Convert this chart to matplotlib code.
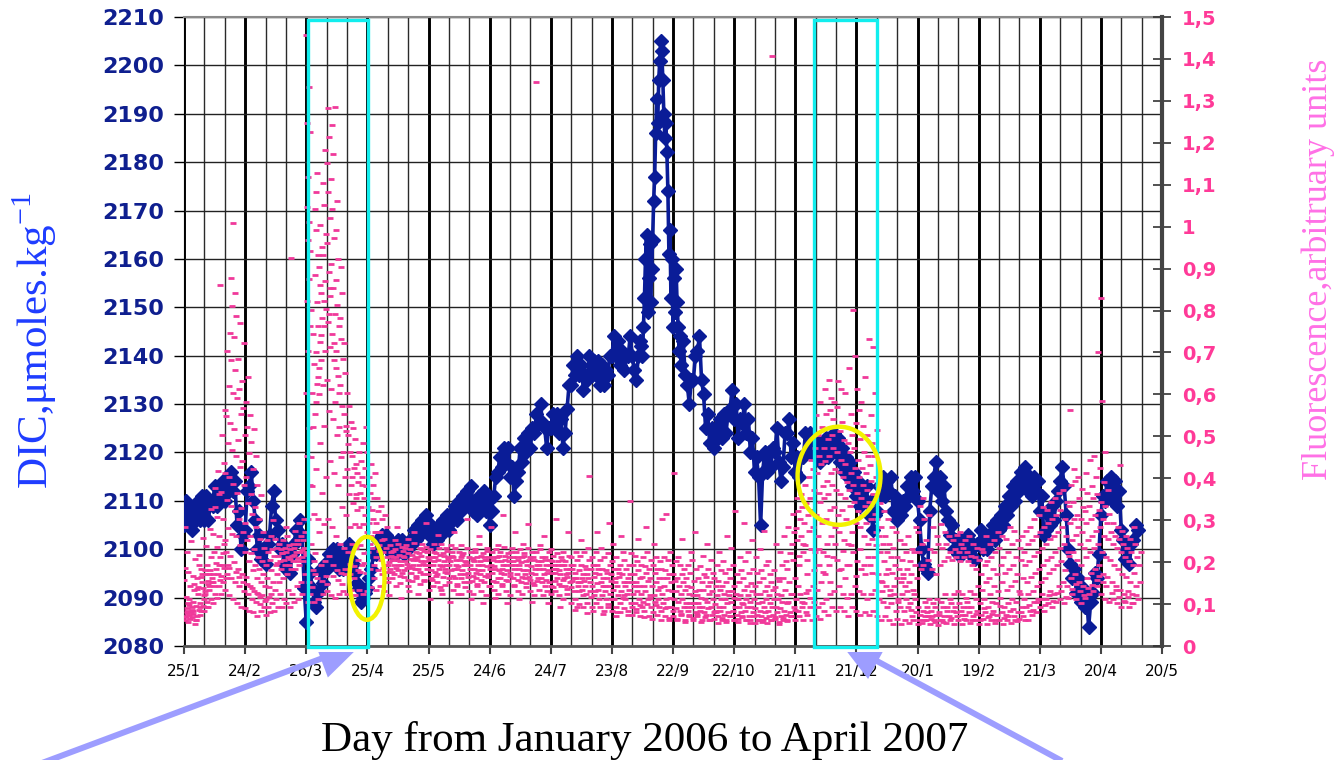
import numpy as np
import matplotlib.pyplot as plt
from matplotlib.patches import Rectangle, Ellipse, FancyArrow

# x axis: days counted from 25/1/2006
tick_days = list(range(0, 481, 30))
tick_names = ['25/1', '24/2', '26/3', '25/4', '25/5', '24/6', '24/7', '23/8', '22/9',
              '22/10', '21/11', '21/12', '20/1', '19/2', '21/3', '20/4', '20/5']
fl_ticks = [i / 10 for i in range(16)]
fl_names = ['0', '0,1', '0,2', '0,3', '0,4', '0,5', '0,6', '0,7', '0,8', '0,9',
            '1', '1,1', '1,2', '1,3', '1,4', '1,5']

# DIC, one value per day from day 0 to day 224
dic_a = [2105, 2110, 2106, 2109, 2104, 2108, 2106, 2110, 2106, 2111,
         2106, 2111, 2106, 2110, 2109, 2113, 2109, 2113, 2110, 2114,
         2110, 2114, 2112, 2116, 2112, 2114, 2105, 2108, 2100, 2103,
         2104, 2112, 2113, 2116, 2110, 2106, 2100, 2103, 2098, 2100,
         2097, 2101, 2103, 2109, 2112, 2106, 2104, 2100, 2101, 2097,
         2096, 2099, 2095, 2099, 2101, 2104, 2102, 2106, 2103, 2092,
         2085, 2098, 2095, 2092, 2089, 2088, 2091, 2096, 2093, 2097,
         2096, 2099, 2097, 2100, 2097, 2100, 2096, 2098, 2096, 2099,
         2098, 2101, 2098, 2097, 2095, 2093, 2092, 2089, 2090, 2091,
         2092, 2094, 2096, 2099, 2099, 2102, 2100, 2103, 2101, 2103,
         2100, 2102, 2099, 2101, 2099, 2102, 2100, 2102, 2099, 2101,
         2100, 2102, 2101, 2104, 2102, 2105, 2103, 2106, 2104, 2107,
         2103, 2105, 2101, 2104, 2102, 2105, 2103, 2106, 2104, 2107,
         2104, 2107, 2106, 2109, 2106, 2110, 2108, 2111, 2109, 2112,
         2110, 2113, 2108, 2110, 2107, 2111, 2109, 2112, 2108, 2110,
         2105, 2108, 2111, 2115, 2116, 2119, 2117, 2121, 2118, 2121,
         2115, 2117, 2111, 2114, 2116, 2121, 2118, 2123, 2120, 2124,
         2121, 2125, 2124, 2128, 2126, 2130, 2126, 2125, 2121, 2125,
         2125, 2128, 2125, 2128, 2124, 2127, 2121, 2124, 2129, 2134,
         2134, 2138, 2136, 2140, 2136, 2138, 2133, 2136, 2135, 2140,
         2136, 2139, 2136, 2139, 2134, 2138, 2134, 2137, 2136, 2140,
         2140, 2144, 2140, 2143, 2138, 2141, 2137, 2140, 2140, 2144,
         2140, 2137, 2135, 2140, 2143]
# DIC during the September peak, one value per half day from day 224.5
dic_peak = [2142, 2140, 2146, 2152, 2160, 2165, 2149, 2156, 2163, 2151,
            2158, 2164, 2172, 2177, 2186, 2193, 2188, 2197, 2201, 2205,
            2203, 2197, 2190, 2185, 2188, 2182, 2174, 2161, 2166, 2152,
            2160, 2146, 2156, 2149, 2158, 2151, 2146, 2141, 2144]
# DIC, one value per day from day 244 to day 468
dic_b = [2138, 2143, 2136, 2134, 2130, 2135,
         2135, 2140, 2141, 2144, 2135, 2132, 2125, 2128, 2122, 2125,
         2121, 2125, 2123, 2127, 2123, 2128, 2124, 2128, 2129, 2133,
         2127, 2130, 2123, 2127, 2126, 2130, 2124, 2127, 2120, 2123,
         2116, 2119, 2115, 2105, 2116, 2120, 2116, 2120, 2117, 2121,
         2120, 2125, 2118, 2114, 2117, 2124, 2124, 2127, 2119, 2122,
         2116, 2119, 2115, 2119, 2119, 2124, 2120, 2124, 2120, 2123,
         2119, 2122, 2118, 2122, 2120, 2123, 2119, 2122, 2121, 2124,
         2120, 2123, 2118, 2121, 2116, 2119, 2115, 2118, 2113, 2116,
         2111, 2114, 2109, 2113, 2110, 2113, 2107, 2110, 2104, 2107,
         2108, 2113, 2111, 2115, 2111, 2114, 2112, 2115, 2108, 2111,
         2106, 2109, 2107, 2110, 2109, 2113, 2111, 2115, 2112, 2115,
         2110, 2106, 2100, 2097, 2096, 2095, 2108, 2113, 2115, 2118,
         2112, 2115, 2110, 2113, 2108, 2106, 2103, 2105, 2100, 2102,
         2099, 2102, 2099, 2102, 2100, 2103, 2099, 2101, 2098, 2101,
         2101, 2104, 2100, 2103, 2100, 2103, 2102, 2105, 2102, 2106,
         2104, 2107, 2105, 2109, 2107, 2111, 2109, 2113, 2110, 2114,
         2112, 2116, 2113, 2117, 2112, 2115, 2111, 2115, 2112, 2114,
         2108, 2111, 2103, 2104, 2107, 2105, 2109, 2106, 2110, 2112,
         2114, 2117, 2113, 2107, 2100, 2097, 2094, 2096, 2091, 2094,
         2089, 2092, 2088, 2090, 2084, 2089, 2091, 2095, 2094, 2099,
         2107, 2111, 2110, 2114, 2111, 2115, 2110, 2114, 2109, 2112,
         2104, 2102, 2098, 2100, 2097, 2101, 2102, 2105, 2104]

# fluorescence, in thousandths, one list per 2-day bin
# bins from day 0 to day 58
fl_a = [[72, 91, 63, 84, 118, 157, 224, 283, 103, 68, 187, 79],
        [58, 81, 74, 93, 142, 176, 251, 112, 86, 64, 97],
        [69, 53, 84, 95, 133, 168, 207, 104, 61, 148, 77],
        [62, 87, 71, 102, 124, 163, 193, 141, 92, 218, 136],
        [74, 96, 83, 121, 152, 184, 139, 172, 113, 257, 165],
        [83, 104, 132, 154, 171, 123, 194, 238, 147, 92, 181],
        [94, 113, 142, 163, 182, 134, 213, 279, 152, 326, 171],
        [103, 124, 153, 184, 223, 268, 331, 144, 197, 377, 172],
        [114, 143, 171, 212, 263, 308, 362, 418, 862, 193, 236, 158],
        [123, 152, 194, 243, 304, 368, 437, 503, 562, 221, 168, 187],
        [134, 172, 223, 281, 347, 412, 483, 548, 621, 703, 252, 193, 161],
        [121, 163, 214, 268, 334, 403, 467, 532, 604, 683, 747, 812, 878, 186],
        [112, 153, 201, 262, 323, 387, 452, 518, 592, 657, 738, 788, 843, 1008, 176],
        [103, 142, 183, 241, 302, 364, 428, 492, 553, 612, 684, 771, 164],
        [94, 131, 172, 224, 273, 328, 384, 441, 503, 567, 633, 723, 152],
        [91, 123, 164, 203, 252, 293, 342, 404, 461, 522, 583, 642, 147],
        [83, 112, 143, 182, 221, 262, 314, 363, 421, 487, 552, 138],
        [81, 104, 132, 163, 194, 231, 283, 331, 384, 452, 518, 127],
        [72, 101, 124, 152, 183, 212, 254, 302, 361, 118],
        [83, 92, 121, 143, 171, 203, 234, 273, 108],
        [74, 93, 112, 141, 162, 194, 223, 252, 116],
        [82, 103, 124, 153, 182, 204, 232, 263, 301],
        [84, 113, 134, 172, 193, 214, 233, 254, 198],
        [93, 124, 152, 183, 203, 214, 232, 243, 221],
        [92, 113, 162, 193, 204, 221, 233, 252, 283],
        [103, 134, 172, 194, 212, 223, 241, 263, 207],
        [94, 123, 183, 203, 214, 232, 244, 926, 218],
        [104, 143, 184, 202, 223, 234, 252, 274, 211],
        [113, 152, 193, 213, 224, 243, 262, 293, 228],
        [124, 172, 203, 222, 234, 253, 273, 302, 216]]
# bins from day 60 to day 98 (spring bloom)
fl_b = [[1457, 1332, 1248, 1226, 1118, 1047, 1012, 968, 941, 876, 823, 762, 704, 603, 521,
         452, 383, 302, 224, 153, 104],
        [123, 182, 243, 314, 382, 451, 523, 604, 672, 743, 801, 203, 141],
        [104, 163, 222, 303, 421, 553, 624, 702, 763, 821, 884, 932, 993, 1042, 1128, 1083,
         641, 582, 172],
        [113, 192, 271, 364, 483, 602, 681, 724, 783, 842, 903, 952, 1004, 663, 742, 861, 154],
        [124, 203, 292, 403, 524, 623, 704, 762, 803, 871, 932, 983, 1052, 1103, 1184, 822, 168],
        [132, 214, 303, 442, 561, 634, 712, 773, 834, 893, 962, 1021, 1083, 1152, 1213, 1282,
         853, 791, 147],
        [121, 193, 284, 413, 542, 613, 682, 743, 792, 853, 912, 973, 1042, 1113, 1174, 1243,
         723, 166],
        [114, 182, 263, 384, 503, 582, 643, 704, 762, 813, 872, 924, 993, 1286, 1062, 662, 158],
        [123, 174, 243, 332, 451, 523, 572, 623, 684, 732, 783, 842, 903, 604, 148],
        [132, 183, 234, 313, 402, 463, 512, 553, 604, 652, 723, 524, 171],
        [124, 172, 223, 284, 363, 421, 462, 503, 534, 572, 482, 196],
        [133, 191, 243, 292, 342, 383, 424, 452, 493, 521, 403, 163],
        [121, 182, 234, 283, 324, 363, 392, 434, 462, 413, 352, 204],
        [134, 193, 242, 291, 332, 364, 403, 442, 483, 384, 176],
        [123, 174, 221, 273, 312, 353, 382, 424, 463, 522, 198],
        [132, 183, 224, 262, 293, 331, 364, 402, 434, 243],
        [141, 192, 233, 272, 303, 324, 353, 384, 413, 162],
        [134, 182, 213, 242, 273, 294, 323, 352, 226],
        [143, 172, 204, 223, 252, 273, 302, 334, 187],
        [132, 163, 194, 212, 233, 254, 283, 312, 176]]
# bins from day 100 to day 298
fl_c = [[153, 184, 201, 223, 242, 192, 214, 121, 176], [162, 193, 212, 231, 172, 204, 253, 226, 187],
        [143, 181, 206, 218, 244, 213, 194, 283, 167], [151, 173, 192, 214, 236, 203, 227, 114, 182],
        [164, 186, 203, 221, 241, 212, 196, 233, 158], [142, 174, 191, 216, 232, 254, 207, 132, 185],
        [156, 183, 204, 224, 246, 193, 211, 272, 168], [163, 192, 213, 234, 184, 206, 221, 123, 177],
        [147, 172, 203, 226, 243, 214, 196, 232, 158], [154, 184, 193, 212, 237, 203, 224, 293, 171],
        [134, 163, 192, 213, 231, 204, 182, 113, 157], [143, 176, 202, 221, 244, 194, 212, 224, 168],
        [152, 183, 204, 216, 233, 172, 193, 264, 141], [133, 164, 191, 214, 222, 243, 203, 124, 176],
        [146, 173, 194, 207, 226, 184, 213, 234, 162],
        [152, 181, 203, 224, 241, 192, 214, 104, 167], [134, 163, 184, 206, 233, 212, 193, 272, 148],
        [143, 172, 191, 213, 224, 183, 204, 123, 161], [124, 153, 182, 203, 221, 242, 194, 216, 171],
        [141, 164, 192, 212, 234, 201, 173, 303, 152], [132, 154, 183, 204, 223, 192, 211, 112, 166],
        [123, 162, 184, 213, 231, 203, 174, 224, 147], [144, 171, 193, 214, 243, 182, 202, 262, 158],
        [131, 153, 181, 204, 222, 193, 212, 103, 167], [122, 164, 191, 213, 234, 204, 172, 226, 143],
        [142, 173, 194, 206, 224, 183, 213, 284, 156], [133, 152, 184, 212, 232, 191, 203, 114, 162],
        [124, 161, 182, 203, 223, 241, 174, 214, 148], [143, 172, 193, 214, 236, 184, 204, 312, 157],
        [132, 154, 181, 202, 221, 193, 213, 102, 168], [121, 163, 194, 212, 233, 174, 203, 223, 146],
        [142, 171, 192, 204, 224, 183, 212, 273, 158], [131, 153, 184, 213, 232, 192, 201, 113, 164],
        [123, 162, 181, 203, 221, 244, 172, 214, 151], [141, 164, 193, 212, 234, 182, 204, 292, 157],
        [132, 151, 173, 204, 223, 191, 212, 104, 146], [122, 154, 183, 202, 224, 172, 193, 1346, 161],
        [133, 162, 184, 213, 231, 194, 203, 242, 152], [121, 143, 172, 193, 212, 184, 204, 263, 157],
        [132, 153, 181, 204, 223, 173, 194, 102, 144], [124, 141, 173, 192, 214, 232, 183, 203, 156],
        [131, 162, 184, 203, 221, 174, 192, 303, 147], [122, 143, 171, 194, 213, 182, 204, 93, 158],
        [113, 142, 163, 184, 203, 224, 172, 194, 136], [124, 152, 173, 192, 214, 164, 183, 272, 141],
        [103, 132, 154, 173, 192, 213, 162, 184, 86], [112, 143, 161, 182, 204, 223, 153, 92, 131],
        [101, 134, 152, 171, 193, 214, 163, 252, 122], [92, 123, 154, 172, 191, 224, 184, 143, 78],
        [103, 131, 162, 183, 204, 233, 152, 405, 117], [94, 122, 143, 174, 193, 212, 164, 83, 131],
        [102, 134, 151, 172, 194, 223, 183, 272, 113], [93, 121, 153, 162, 184, 204, 142, 234, 76],
        [84, 113, 142, 163, 182, 213, 174, 132, 101], [92, 124, 143, 171, 192, 221, 154, 293, 112],
        [83, 112, 134, 162, 183, 203, 152, 243, 71], [94, 121, 142, 164, 184, 212, 173, 82, 103],
        [82, 114, 132, 153, 172, 194, 223, 262, 121], [91, 123, 144, 161, 183, 204, 152, 113, 74],
        [84, 103, 134, 152, 171, 193, 222, 345, 92], [73, 102, 124, 153, 172, 192, 214, 143, 88],
        [82, 113, 131, 162, 181, 203, 142, 254, 97], [71, 104, 123, 143, 164, 192, 212, 93, 68],
        [83, 101, 132, 154, 173, 191, 223, 283, 112], [72, 93, 121, 142, 163, 184, 204, 114, 64],
        [81, 104, 122, 153, 174, 193, 213, 243, 98], [73, 92, 113, 141, 162, 183, 202, 134, 62],
        [84, 102, 124, 143, 161, 184, 212, 303, 91], [71, 94, 112, 134, 163, 182, 204, 315, 66],
        [63, 92, 114, 132, 153, 171, 193, 224, 84],
        [72, 91, 113, 132, 154, 172, 203, 412, 64], [61, 83, 104, 123, 142, 163, 192, 213, 76],
        [73, 94, 112, 134, 152, 171, 183, 254, 58], [62, 84, 102, 124, 143, 162, 194, 93, 71],
        [74, 92, 103, 122, 141, 173, 204, 223, 66], [63, 81, 102, 121, 132, 154, 183, 272, 77],
        [72, 84, 103, 114, 133, 162, 191, 94, 57], [61, 82, 93, 112, 134, 153, 172, 214, 68],
        [73, 91, 104, 123, 142, 164, 183, 243, 62], [62, 73, 92, 113, 131, 152, 174, 204, 81],
        [64, 82, 101, 122, 143, 161, 192, 83, 56], [71, 83, 94, 112, 133, 154, 182, 224, 67],
        [62, 74, 93, 113, 124, 142, 173, 203, 58], [63, 81, 102, 121, 132, 153, 184, 262, 72],
        [72, 83, 104, 114, 132, 163, 193, 234, 61], [61, 73, 92, 112, 123, 144, 172, 323, 57],
        [64, 82, 94, 103, 122, 152, 181, 213, 69], [71, 84, 101, 113, 134, 162, 203, 294, 63],
        [62, 72, 93, 104, 121, 143, 174, 224, 56], [63, 81, 92, 112, 132, 151, 184, 253, 71],
        [54, 73, 91, 103, 124, 142, 173, 212, 62], [61, 72, 83, 104, 123, 152, 181, 232, 58],
        [63, 82, 94, 113, 132, 163, 194, 274, 67], [56, 71, 84, 102, 121, 143, 172, 203, 61],
        [62, 74, 93, 112, 134, 153, 182, 1408, 69], [64, 81, 92, 113, 124, 141, 163, 243, 57],
        [53, 72, 91, 104, 122, 154, 193, 224, 66], [61, 73, 84, 102, 134, 162, 203, 262, 59],
        [63, 82, 104, 123, 152, 184, 221, 283, 72], [72, 94, 123, 162, 204, 243, 272, 314, 86]]
# bins from day 300 to day 468
fl_d = [[63, 84, 112, 214, 253, 282, 323, 354, 193, 142],
        [72, 93, 124, 223, 262, 304, 332, 362, 243, 104],
        [61, 82, 103, 204, 241, 293, 342, 383, 172, 126],
        [74, 92, 133, 232, 274, 313, 354, 402, 443, 114],
        [63, 104, 143, 224, 283, 324, 372, 423, 472, 182],
        [72, 93, 134, 192, 263, 312, 364, 413, 452, 503, 552, 231],
        [64, 103, 152, 224, 293, 343, 382, 434, 473, 523, 583, 176],
        [83, 112, 172, 243, 304, 352, 393, 442, 493, 553, 612, 214],
        [74, 124, 193, 262, 324, 363, 412, 453, 503, 562, 634, 591, 153],
        [93, 132, 213, 284, 332, 384, 423, 472, 524, 583, 542, 243],
        [84, 143, 204, 273, 313, 372, 414, 463, 512, 632, 571, 182],
        [92, 123, 184, 252, 324, 362, 403, 443, 492, 534, 612, 226],
        [83, 114, 163, 243, 302, 353, 392, 434, 483, 523, 603, 192],
        [72, 124, 192, 273, 334, 372, 413, 462, 503, 553, 663, 241],
        [94, 143, 224, 293, 343, 383, 424, 472, 532, 692, 801, 168],
        [83, 132, 203, 284, 323, 364, 403, 443, 494, 562, 613, 232],
        [74, 123, 184, 263, 312, 352, 383, 424, 463, 524, 582, 194],
        [82, 113, 172, 243, 293, 334, 372, 413, 452, 503, 642, 213],
        [73, 124, 193, 254, 303, 343, 394, 432, 483, 552, 733, 174],
        [84, 134, 212, 273, 314, 362, 403, 452, 514, 603, 712, 242],
        [72, 113, 172, 224, 263, 304, 342, 383, 154], [63, 104, 152, 203, 243, 284, 323, 132],
        [71, 93, 143, 184, 224, 263, 302, 172], [62, 102, 134, 173, 212, 243, 284, 121],
        [53, 84, 123, 162, 193, 234, 273, 143], [64, 92, 113, 152, 184, 213, 252, 104],
        [52, 83, 124, 143, 172, 204, 243, 163], [61, 94, 112, 153, 183, 224, 262, 132],
        [54, 72, 103, 134, 172, 203, 232, 86], [63, 82, 124, 162, 194, 223, 283, 112],
        [52, 73, 94, 184, 223, 272, 334, 63], [54, 62, 83, 104, 193, 243, 302, 352, 71],
        [61, 72, 93, 112, 204, 252, 313, 82], [53, 71, 84, 103, 183, 232, 284, 64],
        [62, 74, 92, 113, 172, 223, 263, 57], [51, 63, 82, 104, 193, 243, 292, 74],
        [63, 72, 93, 124, 203, 234, 272, 58], [54, 71, 83, 112, 213, 243, 262, 92],
        [62, 83, 102, 123, 204, 224, 253, 67], [53, 72, 94, 132, 213, 232, 264, 81],
        [61, 84, 103, 124, 202, 223, 243, 272, 73], [52, 73, 92, 114, 212, 234, 253, 64],
        [63, 82, 104, 132, 203, 224, 262, 93], [54, 71, 93, 123, 193, 214, 243, 62],
        [62, 83, 112, 143, 184, 213, 234, 76], [53, 74, 102, 134, 172, 204, 232, 61],
        [64, 82, 113, 152, 193, 224, 263, 91], [52, 71, 93, 124, 163, 203, 243, 68],
        [63, 84, 104, 143, 184, 213, 252, 77], [54, 73, 102, 132, 172, 224, 272, 63],
        [61, 82, 114, 153, 192, 234, 263, 96], [53, 74, 93, 134, 173, 213, 254, 66],
        [62, 83, 102, 142, 183, 224, 283, 72], [54, 72, 113, 154, 193, 243, 274, 88],
        [63, 81, 104, 132, 172, 213, 252, 59], [64, 93, 124, 163, 204, 234, 263, 82],
        [72, 94, 113, 152, 193, 224, 274, 63], [63, 84, 123, 164, 203, 243, 284, 97],
        [73, 104, 132, 173, 214, 253, 302, 86], [82, 113, 143, 184, 223, 262, 313, 104],
        [93, 124, 152, 193, 234, 272, 332, 112], [84, 112, 163, 204, 243, 283, 324, 98],
        [103, 132, 174, 213, 254, 293, 343, 121], [92, 123, 184, 224, 263, 304, 352, 107],
        [104, 143, 193, 234, 272, 313, 364, 126], [113, 152, 203, 243, 284, 324, 373, 132],
        [102, 143, 182, 224, 263, 302, 343, 118], [114, 163, 214, 253, 293, 334, 383, 562, 136],
        [123, 172, 223, 264, 302, 343, 394, 423, 147], [112, 153, 204, 243, 284, 313, 354, 402, 131],
        [103, 143, 192, 234, 273, 304, 332, 374, 122], [114, 162, 213, 253, 294, 323, 364, 412, 138],
        [123, 174, 224, 263, 304, 333, 382, 443, 146], [132, 183, 234, 274, 313, 354, 403, 452, 158],
        [143, 194, 243, 283, 324, 363, 424, 702, 831, 167],
        [124, 172, 223, 263, 304, 343, 392, 584, 463, 152],
        [113, 164, 213, 254, 293, 334, 372, 142], [104, 153, 204, 243, 273, 314, 126],
        [112, 143, 192, 234, 263, 293, 133], [102, 134, 183, 224, 254, 283, 432, 118],
        [93, 124, 172, 213, 243, 274, 107], [104, 132, 164, 203, 234, 263, 116],
        [92, 123, 153, 194, 224, 254, 103], [103, 143, 174, 213, 243, 283, 121],
        [112, 153, 193, 224]]


def spread(bins, start):
    # place the values of each 2-day bin across the bin
    xs, ys = [], []
    for i, vals in enumerate(bins):
        for j, v in enumerate(vals):
            xs.append(start + 2 * i + 2 * ((j * 0.618) % 1))
            ys.append(v / 1000)
    return xs, ys


dic_x = np.concatenate([np.arange(len(dic_a)),
                        224.5 + 0.5 * np.arange(len(dic_peak)),
                        244 + np.arange(len(dic_b))])
dic_y = np.array(dic_a + dic_peak + dic_b)

fl_x, fl_y = [], []
for bins, start in [(fl_a, 0), (fl_b, 60), (fl_c, 100), (fl_d, 300)]:
    xs, ys = spread(bins, start)
    fl_x += xs
    fl_y += ys

navy = '#0a1c97'
pink = '#f0399a'

fig = plt.figure(figsize=(13.4, 7.6), dpi=100)
ax = fig.add_axes([184 / 1340, 1 - 646 / 760, 978 / 1340, 629 / 760])
ax.set_xlim(0, 480)
ax.set_ylim(2080, 2210)
ax.set_axisbelow(True)
ax.set_xticks(tick_days)
ax.set_xticklabels(tick_names, fontsize=11)
ax.set_xticks(range(0, 481, 10), minor=True)
ax.set_yticks(range(2080, 2211, 10))
ax.tick_params(axis='y', labelsize=16, labelcolor='#0f1f8f', length=7, width=1, pad=7)
for lab in ax.get_yticklabels():
    lab.set_fontweight('bold')
ax.tick_params(axis='x', which='major', length=6, width=1.5, color='#444444', pad=7)
ax.tick_params(axis='x', which='minor', length=0)
ax.grid(axis='x', which='major', color='black', lw=2.1)
ax.grid(axis='x', which='minor', color='#2a2a2a', lw=1.0)
ax.grid(axis='y', which='major', color='#222222', lw=1.0)
ax.spines['top'].set_color('#8a8a8a')
ax.spines['top'].set_linewidth(1.5)
ax.spines['bottom'].set_color('#555555')
ax.spines['bottom'].set_linewidth(2)
ax.spines['left'].set_color('black')
ax.spines['right'].set_visible(False)

ax.plot(dic_x, dic_y, color=navy, lw=2.6, marker='D', ms=7.5, mec=navy, zorder=3)

ax2 = ax.twinx()
ax2.plot(fl_x, fl_y, ls='none', marker='_', ms=4.5, mew=2.0, color=pink, zorder=3)
ax2.set_ylim(0, 1.5)
ax2.set_yticks(fl_ticks)
ax2.set_yticklabels(fl_names)
ax2.tick_params(axis='y', direction='inout', length=13, width=1.2, color='#333333',
                labelsize=14, labelcolor='#ff3a98', pad=8)
for lab in ax2.get_yticklabels():
    lab.set_fontweight('bold')
ax2.spines['right'].set_color('#444444')
ax2.spines['right'].set_linewidth(3)
for s in ['top', 'bottom', 'left']:
    ax2.spines[s].set_visible(False)

# cyan boxes around the two blooms, yellow rings on the DIC dips
for d0, d1 in [(61.0, 90.3), (309.2, 340.1)]:
    ax2.add_patch(Rectangle((d0, -0.002), d1 - d0, 1.494, fill=False,
                            ec='#11eeee', lw=2.4, clip_on=False, zorder=6))
for cx, cy, w, h in [(89.8, 0.1615, 17.2, 0.198), (321.5, 0.406, 40.7, 0.234)]:
    ax2.add_patch(Ellipse((cx, cy), w, h, fill=False, ec='#f2f200', lw=3.2,
                          clip_on=False, zorder=7))
ax2.set_xlim(0, 480)
ax2.set_ylim(0, 1.5)

serif = 'Liberation Serif'
plt.rcParams['mathtext.fontset'] = 'custom'
plt.rcParams['mathtext.rm'] = serif
fig.text(35 / 1340, 1 - 341 / 760, r'DIC,μmoles.kg$^{\mathrm{-1}}$', family=serif,
         fontsize=31, color='#1e3cff', rotation=90, ha='center', va='center')
fig.text(1318 / 1340, 1 - 269 / 760, 'Fluorescence,arbitruary units', family=serif,
         fontsize=26, color='#ff70e6', rotation=90, ha='center', va='center')
fig.text(645 / 1340, 1 - 740 / 760, 'Day from January 2006 to April 2007', family=serif,
         fontsize=31, color='black', ha='center', va='center')

# arrows pointing at the boxes, hidden under the plot area
ov = fig.add_axes([0, 0, 1, 1], zorder=5)
ov.set_xlim(0, 1340)
ov.set_ylim(760, 0)
ov.axis('off')
ov.patch.set_alpha(0)
clip = Rectangle((0, 652), 1340, 108, transform=ov.transData)
for (x0, y0), (x1, y1) in [((42, 763), (363, 643)), ((1062, 761), (838, 640))]:
    arr = FancyArrow(x0, y0, x1 - x0, y1 - y0, width=6, head_width=40, head_length=45,
                     length_includes_head=True, color='#9d9dff', lw=0)
    ov.add_patch(arr)
    arr.set_clip_path(clip)

fig.savefig('out.png', dpi=100)
